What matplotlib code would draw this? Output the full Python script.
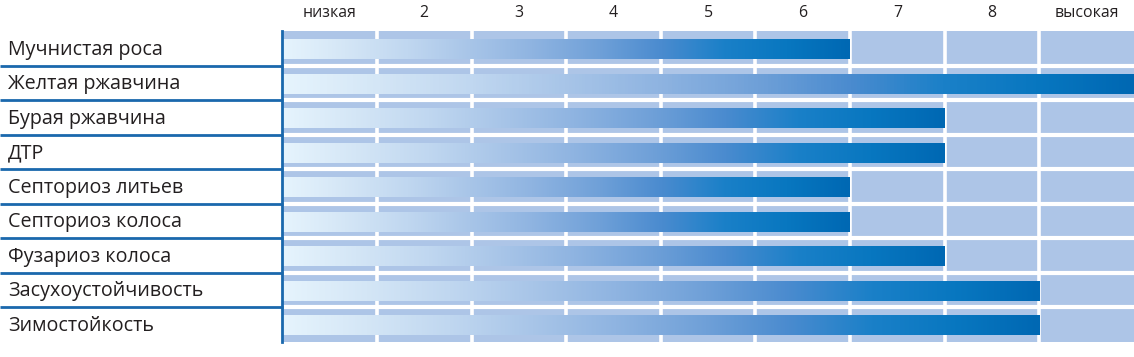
import numpy as np
import matplotlib.pyplot as plt
from matplotlib.colors import LinearSegmentedColormap
from matplotlib.transforms import blended_transform_factory

plt.rcParams['font.family'] = ['Open Sans', 'DejaVu Sans']

# данные
traits = ['Мучнистая роса', 'Желтая ржавчина', 'Бурая ржавчина', 'ДТР',
          'Септориоз литьев', 'Септориоз колоса', 'Фузариоз колоса',
          'Засухоустойчивость', 'Зимостойкость']
scores = [6, 9, 7, 7, 6, 6, 7, 8, 8]
scale_labels = ['низкая', '2', '3', '4', '5', '6', '7', '8', 'высокая']

dark = '#1a68ad'
cell = '#adc5e7'
txt = '#231f20'
grad = LinearSegmentedColormap.from_list('g', [
    (0.0, '#e6f4fd'), (0.11, '#d4e6f6'), (0.22, '#c0d7f0'), (0.33, '#a8c5e8'),
    (0.44, '#8fb4e1'), (0.56, '#6fa0d8'), (0.67, '#4a8bcf'), (0.78, '#1a80c8'),
    (0.89, '#0877c0'), (1.0, '#0068b3')])

fig = plt.figure(figsize=(11.34, 3.57), dpi=100)
W, H = 1134, 357
ax = fig.add_axes([282.3 / W, (H - 341.5) / H, 1 - 282.3 / W, 310.5 / H])

n = len(traits)
ncol = len(scale_labels)
rows = np.arange(n)

# фон ячеек
ax.barh(rows, [ncol] * n, height=1.0, left=0, color=cell, zorder=1)
for k in range(1, ncol):
    ax.axvline(k, color='white', lw=2.6, zorder=2)
for k in range(1, n):
    ax.axhline(k - 0.5, color='white', lw=3.0, zorder=2)

# полосы с градиентом
bars = ax.barh(rows + 0.03, scores, height=0.58, left=0, color='none', zorder=3)
g = np.linspace(0, 1, 256).reshape(1, -1)
for b in bars:
    x0, y0, w, h = b.get_x(), b.get_y(), b.get_width(), b.get_height()
    im = ax.imshow(g, cmap=grad, aspect='auto', extent=(x0, x0 + w, y0 + h, y0),
                   zorder=3, interpolation='bilinear')
    im.set_clip_path(b)

ax.axvline(0, color=dark, lw=2.0, zorder=5, clip_on=False)

ax.set_xlim(0, ncol)
ax.set_ylim(n - 0.5, -0.5)
ax.axis('off')

# подписи слева
tr = blended_transform_factory(fig.transFigure, ax.transData)
for i, t in enumerate(traits):
    ax.text(8 / W, i + 0.05, t, transform=tr, ha='left', va='center',
            fontsize=14.2, color=txt)
for k in range(1, n):
    ax.plot([0, 283 / W], [k - 0.5, k - 0.5], transform=tr, color=dark,
            lw=2.0, clip_on=False, solid_capstyle='butt')

# шкала сверху
tr2 = blended_transform_factory(ax.transData, ax.transAxes)
for j, s in enumerate(scale_labels):
    ax.text(j + 0.5, 1.058, s, transform=tr2, ha='center', va='center',
            fontsize=11.4, color=txt)

fig.savefig('out.png', dpi=100)
